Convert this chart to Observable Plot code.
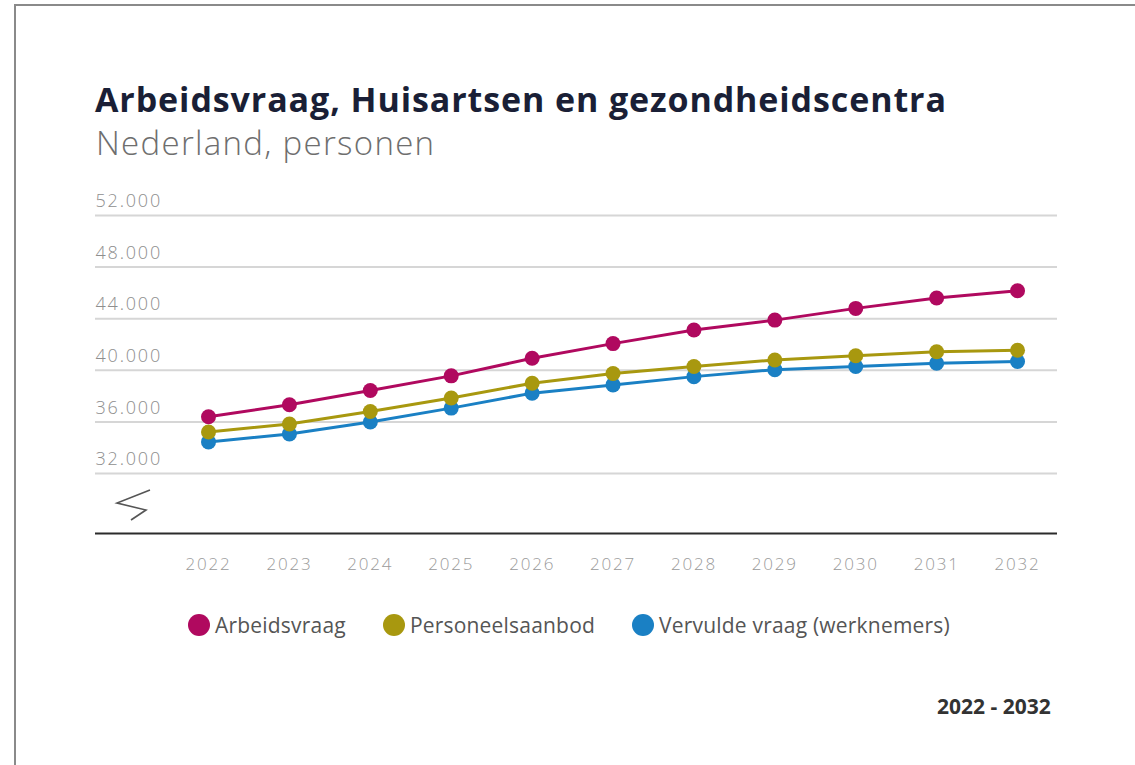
<!DOCTYPE html>
<html>
<head>
<meta charset="utf-8">
<script src="https://cdn.jsdelivr.net/npm/d3@7"></script>
<script src="https://cdn.jsdelivr.net/npm/@observablehq/plot@0.6"></script>
<style>
  html, body { margin: 0; padding: 0; background: #fff; }
  #page { position: relative; width: 1135px; height: 765px; overflow: hidden; font-family: "Open Sans", sans-serif; }
  #frame { position: absolute; left: 14px; top: 4px; right: -10px; bottom: -10px; border-top: 2px solid #8a8a8a; border-left: 2px solid #8a8a8a; }
  #title { position: absolute; left: 95px; top: 76px; font-size: 34px; font-weight: 700; color: #1a1f36; white-space: nowrap; letter-spacing: 0.9px; }
  #subtitle { position: absolute; left: 96px; top: 120px; font-size: 33px; font-weight: 300; color: #6e6e6e; white-space: nowrap; letter-spacing: 1.3px; }
  #chart { position: absolute; left: 0; top: 180px; }
  #chart svg text { letter-spacing: 1.8px; }
  #legend { position: absolute; left: 188px; top: 611px; display: flex; align-items: center; font-size: 21px; color: #555; white-space: nowrap; letter-spacing: 0.2px; }
  .item { display: flex; align-items: center; margin-right: 37px; }
  .sw { width: 22px; height: 22px; border-radius: 50%; margin-right: 5px; }
  #footer { position: absolute; left: 937px; top: 692px; font-size: 21px; font-weight: 700; color: #333; }
  #brk { position: absolute; left: 0; top: 0; }
</style>
</head>
<body>
<div id="page">
  <div id="frame"></div>
  <div id="title"></div>
  <div id="subtitle"></div>
  <div id="chart"></div>
  <svg id="brk" width="200" height="540"><path d="M150,490 L117,503 L146,510 L131,520" fill="none" stroke="#555" stroke-width="1.6" stroke-linejoin="miter"/></svg>
  <div id="legend"></div>
  <div id="footer"></div>
</div>
<script>
const titleText = "Arbeidsvraag, Huisartsen en gezondheidscentra";
const subtitleText = "Nederland, personen";
const footerText = "2022 - 2032";
const years = [2022, 2023, 2024, 2025, 2026, 2027, 2028, 2029, 2030, 2031, 2032];
const seriesNames = ["Arbeidsvraag", "Personeelsaanbod", "Vervulde vraag (werknemers)"];
const seriesColors = ["#b0095f", "#a8980f", "#1a80c4"];
const arbeidsvraag = [36400, 37330, 38430, 39570, 40930, 42070, 43120, 43890, 44800, 45610, 46170];
const personeelsaanbod = [35220, 35840, 36810, 37850, 39000, 39750, 40290, 40800, 41130, 41440, 41550];
const vervuldeVraag = [34450, 35070, 35990, 37070, 38230, 38870, 39510, 40050, 40290, 40550, 40680];
const yTicks = [32000, 36000, 40000, 44000, 48000, 52000];
const yMin = 27350, yMax = 52000;

document.getElementById("title").textContent = titleText;
document.getElementById("subtitle").textContent = subtitleText;
document.getElementById("footer").textContent = footerText;

const seriesValues = [arbeidsvraag, personeelsaanbod, vervuldeVraag];
const data = [];
seriesNames.forEach((name, i) => years.forEach((y, j) => data.push({series: name, year: y, value: seriesValues[i][j]})));
// draw order: blue, olive, magenta on top
const order = [2, 1, 0];
const fmt = d => d3.format(",")(d).replace(/,/g, ".");

const marks = [
  Plot.ruleY(yTicks, {stroke: "#d6d6d6", strokeWidth: 2}),
  Plot.text(yTicks, {y: d => d, frameAnchor: "left", textAnchor: "start", dy: -14, text: fmt, fill: "#8e8e8e", fontSize: 18, fontWeight: 300}),
  Plot.ruleY([yMin], {stroke: "#2b2b2b", strokeWidth: 2})
];
for (const i of order) {
  const d = data.filter(r => r.series === seriesNames[i]);
  marks.push(Plot.line(d, {x: "year", y: "value", stroke: seriesColors[i], strokeWidth: 3}));
  marks.push(Plot.dot(d, {x: "year", y: "value", r: 7.5, fill: seriesColors[i], stroke: "none"}));
}

const chart = Plot.plot({
  width: 1135,
  height: 400,
  marginLeft: 95,
  marginRight: 78,
  marginTop: 35,
  marginBottom: 47,
  style: {fontFamily: "'Open Sans', sans-serif", background: "transparent", overflow: "visible"},
  x: {type: "linear", domain: [2020.603, 2032.494], ticks: years, tickFormat: d => String(d), tickSize: 0, tickPadding: 24, label: null, fontSize: 17},
  y: {domain: [yMin, yMax], axis: null},
  marks
});
chart.querySelectorAll('g[aria-label="x-axis tick label"], g[aria-label="x-axis"]').forEach(g => { g.setAttribute("fill", "#9a9a9a"); g.setAttribute("font-size", "17"); g.setAttribute("font-weight", "300"); });
document.getElementById("chart").appendChild(chart);

const legend = document.getElementById("legend");
seriesNames.forEach((n, i) => {
  const it = document.createElement("div");
  it.className = "item";
  const sw = document.createElement("span");
  sw.className = "sw";
  sw.style.background = seriesColors[i];
  const t = document.createElement("span");
  t.textContent = n;
  it.appendChild(sw); it.appendChild(t);
  legend.appendChild(it);
});
</script>
</body>
</html>
